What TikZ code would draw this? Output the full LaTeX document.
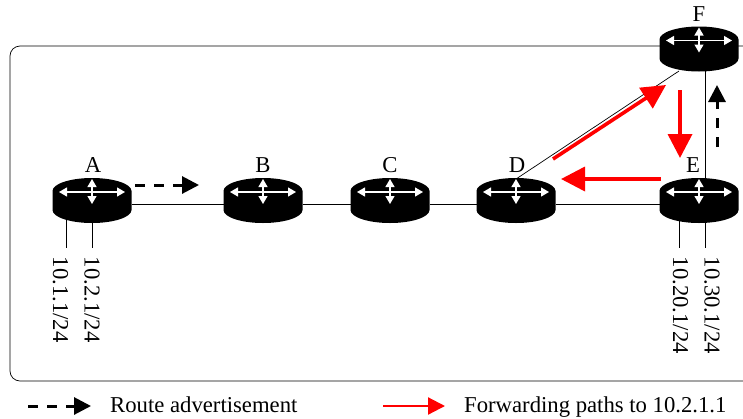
\documentclass[tikz,border=0pt]{standalone}
\usepackage{fontspec}
\setmainfont{Liberation Serif}
\usetikzlibrary{arrows.meta}
\tikzset{
  router/.style={minimum width=79pt,minimum height=45pt,inner sep=0pt,outer sep=0pt},
  routerarrow/.style={white,line width=1.2pt,{Triangle[length=8pt,width=9pt]}-{Triangle[length=8pt,width=9pt]}},
  link/.style={line width=.7pt},
  advert/.style={line width=3pt,dash pattern=on 10pt off 9pt,-{Triangle[length=17pt,width=17pt]}},
  fwd/.style={red,line width=3.6pt,-{Triangle[length=24pt,width=24pt]}},
  txt/.style={font=\fontsize{22.7}{22.7}\selectfont,inner sep=0pt}
}
\newcommand{\router}[4]{
  \node [router] (#1) at (#2) {};
  \fill ([shift={(-39.5,-9.5)}]#1.center) arc[start angle=180,end angle=360,x radius=39.5,y radius=13] -- ++(0,19) arc[start angle=0,end angle=180,x radius=39.5,y radius=13] -- cycle;
  \draw[routerarrow] ([shift={(-33,-8.5)}]#1.center) -- ([shift={(33,-8.5)}]#1.center);
  \draw[routerarrow] ([shift={(0,-21.5)}]#1.center) -- ([shift={(0,3.5)}]#1.center);
  \node[txt,anchor=base] (#1name) at ([shift={(#4pt,28pt)}]#1.center) {#3};
}
\begin{document}
\begin{tikzpicture}[x=1pt,y=-1pt]
  \useasboundingbox (0,0) rectangle (743,418);

  \draw[link,rounded corners=10pt] (743,46) -- (10,46) -- (10,381) -- (743,381);

  \router{A}{92,200.5}{A}{1}
  \router{B}{263,200.5}{B}{0}
  \router{C}{390,200.5}{C}{0}
  \router{D}{516,200.5}{D}{1}
  \router{E}{699,200.5}{E}{-6}
  \router{F}{699,49}{F}{0}

  \draw[link] (A.east |- 0,204) -- (B.west |- 0,204);
  \draw[link] (B.east |- 0,204) -- (C.west |- 0,204);
  \draw[link] (C.east |- 0,204) -- (D.west |- 0,204);
  \draw[link] (D.east |- 0,204) -- (E.west |- 0,204);
  \draw[link] (516,179) -- (679,71);
  \draw[link] (705,71) -- (705,179);

  \coordinate (A1) at (66,248);
  \coordinate (A2) at (92,248);
  \coordinate (E1) at (679.5,248);
  \coordinate (E2) at (705,248);
  \draw[link] (66,218) -- (A1);
  \draw[link] (92,222) -- (A2);
  \draw[link] (679.5,220) -- (E1);
  \draw[link] (705,222) -- (E2);

  \node[txt,rotate=-90,anchor=base west] (netA1) at (53,256.5) {10.1.1/24};
  \node[txt,rotate=-90,anchor=base west] (netA2) at (84.5,256.5) {10.2.1/24};
  \node[txt,rotate=-90,anchor=base west] (netE1) at (673,256.5) {10.20.1/24};
  \node[txt,rotate=-90,anchor=base west] (netE2) at (704.5,256.5) {10.30.1/24};

  \coordinate (adv1a) at (135,185);
  \coordinate (adv1b) at (199,185);
  \coordinate (adv2a) at (717,147);
  \coordinate (adv2b) at (717,85);
  \draw[advert] (adv1a) -- (adv1b);
  \draw[advert] (adv2a) -- (adv2b);

  \coordinate (fw1a) at (553,159);
  \coordinate (fw1b) at (666,85);
  \coordinate (fw2a) at (680,90);
  \coordinate (fw2b) at (680,158);
  \coordinate (fw3a) at (661,179);
  \coordinate (fw3b) at (561,179);
  \draw[fwd] (fw1a) -- (fw1b);
  \draw[fwd] (fw2a) -- (fw2b);
  \draw[fwd] (fw3a) -- (fw3b);

  % legend
  \coordinate (lg1a) at (28,406);
  \coordinate (lg1b) at (91,406);
  \coordinate (lg2a) at (383,406);
  \coordinate (lg2b) at (445,406);
  \draw[advert] (lg1a) -- (lg1b);
  \draw[red,line width=2.2pt,-{Triangle[length=17pt,width=17pt]}] (lg2a) -- (lg2b);
  \node[txt,anchor=base west] (lgtxt1) at (110,412) {Route advertisement};
  \node[txt,anchor=base west] (lgtxt2) at (464,412) {Forwarding paths to 10.2.1.1};
\end{tikzpicture}
\end{document}
